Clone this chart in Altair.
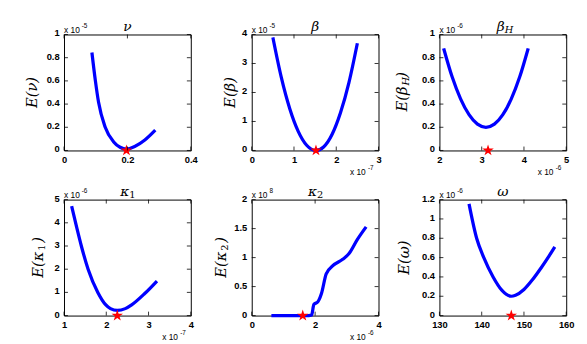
import altair as alt
import pandas as pd

# ---------------- data ----------------
nu_x = [0.088, 0.099, 0.109, 0.130, 0.156, 0.177, 0.197, 0.223, 0.255, 0.288]
nu_y = [0.845, 0.60, 0.415, 0.20, 0.076, 0.028, 0.011, 0.034, 0.09, 0.175]
nu_star = 0.197
nu_xticks = [0, 0.2, 0.4]
nu_yticks = [0, 0.2, 0.4, 0.6, 0.8, 1]

beta_x = [0.5, 0.7, 0.9, 1.1, 1.3, 1.52, 1.7, 1.9, 2.1, 2.3, 2.5]
beta_y = [3.9, 2.52, 1.44, 0.66, 0.18, 0.0, 0.12, 0.55, 1.3, 2.34, 3.7]
beta_star = 1.52
beta_xticks = [0, 1, 2, 3]
beta_yticks = [0, 1, 2, 3, 4]

betaH_x = [2.1, 2.3, 2.5, 2.7, 2.9, 3.1, 3.3, 3.5, 3.7, 3.9, 4.1]
betaH_y = [0.88, 0.635, 0.445, 0.309, 0.227, 0.2, 0.227, 0.309, 0.445, 0.635, 0.88]
betaH_star = 3.15
betaH_xticks = [2, 3, 4, 5]
betaH_yticks = [0, 0.2, 0.4, 0.6, 0.8, 1]

k1_x = [1.18, 1.3, 1.41, 1.57, 1.8, 1.99, 2.1, 2.26, 2.45, 2.6, 2.91, 3.2]
k1_y = [4.72, 3.8, 3.0, 2.0, 1.0, 0.46, 0.3, 0.22, 0.3, 0.46, 0.95, 1.49]
k1_star = 2.26
k1_xticks = [1, 2, 3, 4]
k1_yticks = [0, 1, 2, 3, 4, 5]

k2_x = [0.62, 1.0, 1.4, 1.8, 1.89, 1.96, 2.09, 2.2, 2.35, 2.56, 2.87, 3.07, 3.33, 3.61]
k2_y = [0, 0, 0, 0, 0.01, 0.19, 0.24, 0.38, 0.72, 0.86, 0.97, 1.07, 1.31, 1.53]
k2_star = 1.61
k2_xticks = [0, 2, 4]
k2_yticks = [0, 0.5, 1, 1.5, 2]

om_x = [137.0, 138.8, 140.5, 142.7, 144.8, 147.0, 148, 150, 152, 154, 156, 157.3]
om_y = [1.156, 0.8, 0.6, 0.4, 0.26, 0.2, 0.21, 0.27, 0.37, 0.49, 0.62, 0.71]
om_star = 147.0
om_xticks = [130, 140, 150, 160]
om_yticks = [0, 0.2, 0.4, 0.6, 0.8, 1, 1.2]

# ---------------- styling ----------------
W, H = 129, 118
CELL_L, CELL_R, CELL_T, CELL_B = 50, 10, 22, 25
MATH = "DejaVu Serif"
SANS = "Liberation Sans"
BLUE = "#0000ff"
STAR = ("M0,-1L0.2245,-0.309L0.9511,-0.309L0.3633,0.118L0.5878,0.809L0,0.382"
        "L-0.5878,0.809L-0.3633,0.118L-0.9511,-0.309L-0.2245,-0.309Z")


def txt(s, x, y, **kw):
    return alt.Chart(pd.DataFrame({"t": [s]})).mark_text(**kw).encode(
        text="t:N", x=alt.value(x), y=alt.value(y)
    )


def anchor(x, y):
    return alt.Chart(pd.DataFrame({"t": [0]})).mark_rule(color="white", strokeWidth=1).encode(
        x=alt.value(x), x2=alt.value(x + 1), y=alt.value(y), y2=alt.value(y)
    )


def panel(xv, yv, sx, xdom, ydom, xt, yt, sym, sub, ysym, ysub, top_exp, bot_exp, ydx):
    xs = alt.Scale(domain=xdom, nice=False, zero=False)
    ys = alt.Scale(domain=ydom, nice=False, zero=False)
    lab = dict(labelFont=SANS, labelFontWeight="bold", labelFontSize=9.5,
               labelColor="black", tickSize=0, domain=False, grid=False,
               labelOverlap=False, labelFlush=False, labelExpr="'' + datum.value",
               title=None)
    xax = alt.Axis(values=xt, labelPadding=4, **lab)
    yax = alt.Axis(values=yt, labelPadding=5, labelOffset=-1.5, **lab)

    def X(f):
        return alt.X(f, scale=xs, axis=xax, title=None)

    def Y(f):
        return alt.Y(f, scale=ys, axis=yax, title=None)

    df = pd.DataFrame({"x": xv, "y": yv})
    line = alt.Chart(df).mark_line(color=BLUE, strokeWidth=3.3, interpolate="monotone").encode(
        x=X("x:Q"), y=Y("y:Q")
    )
    star = alt.Chart(pd.DataFrame({"x": [sx], "y": [0]})).mark_point(
        shape=STAR, filled=True, color="red", size=150, opacity=1, strokeWidth=0
    ).encode(x=X("x:Q"), y=Y("y:Q"))

    xtdf = pd.DataFrame({"x": xt})
    ytdf = pd.DataFrame({"y": yt})
    rk = dict(color="black", strokeWidth=0.8)
    tb = alt.Chart(xtdf).mark_rule(**rk).encode(x=X("x:Q"), y=alt.value(H), y2=alt.value(H - 4))
    tt = alt.Chart(xtdf).mark_rule(**rk).encode(x=X("x:Q"), y=alt.value(0), y2=alt.value(4))
    tl = alt.Chart(ytdf).mark_rule(**rk).encode(y=Y("y:Q"), x=alt.value(0), x2=alt.value(4))
    tr = alt.Chart(ytdf).mark_rule(**rk).encode(y=Y("y:Q"), x=alt.value(W), x2=alt.value(W - 4))

    layers = [line, star, tb, tt, tl, tr,
              anchor(-CELL_L, -CELL_T), anchor(W + CELL_R - 1, H + CELL_B)]

    sub_style = "normal" if sub.isdigit() else "italic"
    if sub:
        layers.append(txt(sym, W / 2 + 2, -8, font=MATH, fontStyle="italic", fontSize=14, align="right"))
        layers.append(txt(sub, W / 2 + 2, -5, font=MATH, fontStyle=sub_style, fontSize=10, align="left"))
    else:
        layers.append(txt(sym, W / 2, -8, font=MATH, fontStyle="italic", fontSize=14, align="center"))

    if ysub:
        ya = H / 2 - 6
        ysub_style = "normal" if ysub.isdigit() else "italic"
        layers.append(txt(ysym, -ydx, ya, font=MATH, fontStyle="italic", fontSize=15, angle=270,
                          align="right", baseline="middle"))
        layers.append(txt(ysub, -ydx, ya, font=MATH, fontStyle=ysub_style, fontSize=10, angle=270,
                          align="left", baseline="middle", dx=1, dy=4))
        layers.append(txt(")", -ydx, ya, font=MATH, fontStyle="italic", fontSize=15, angle=270,
                          align="left", baseline="middle", dx=9))
    else:
        layers.append(txt(ysym, -ydx, H / 2, font=MATH, fontStyle="italic", fontSize=15, angle=270,
                          align="center", baseline="middle"))

    if top_exp:
        layers.append(txt("x 10", 0, -5, font=SANS, fontSize=8.5, align="left", color="black"))
        layers.append(txt(top_exp, 18, -9, font=SANS, fontSize=6.5, align="left", color="black"))
    if bot_exp:
        layers.append(txt("x 10", W - 13, H + 22, font=SANS, fontSize=8.5, align="right", color="black"))
        layers.append(txt(bot_exp, W - 5, H + 18, font=SANS, fontSize=6.5, align="right", color="black"))

    return alt.layer(*layers).properties(width=W, height=H)


p1 = panel(nu_x, nu_y, nu_star, [0, 0.4], [0, 1], nu_xticks, nu_yticks,
           "ν", "", "E(ν)", "", "-5", "", 33)
p2 = panel(beta_x, beta_y, beta_star, [0, 3], [0, 4], beta_xticks, beta_yticks,
           "β", "", "E(β)", "", "-5", "-7", 22)
p3 = panel(betaH_x, betaH_y, betaH_star, [2, 5], [0, 1], betaH_xticks, betaH_yticks,
           "β", "H", "E(β", "H", "-6", "-6", 38)
p4 = panel(k1_x, k1_y, k1_star, [1, 4], [0, 5], k1_xticks, k1_yticks,
           "κ", "1", "E(κ", "1", "-6", "-7", 26)
p5 = panel(k2_x, k2_y, k2_star, [0, 4], [0, 2], k2_xticks, k2_yticks,
           "κ", "2", "E(κ", "2", "8", "-6", 31)
p6 = panel(om_x, om_y, om_star, [130, 160], [0, 1.2], om_xticks, om_yticks,
           "ω", "", "E(ω)", "", "-6", "", 36)

chart = alt.concat(
    p1, p2, p3, p4, p5, p6,
    columns=3,
    spacing={"row": 0, "column": 0},
).configure_view(stroke="black", strokeWidth=1).properties(
    padding={"left": 6, "top": 1, "right": 2, "bottom": 2},
    background="white",
)

chart.save("out.html", embed_options={"renderer": "svg", "actions": False})
